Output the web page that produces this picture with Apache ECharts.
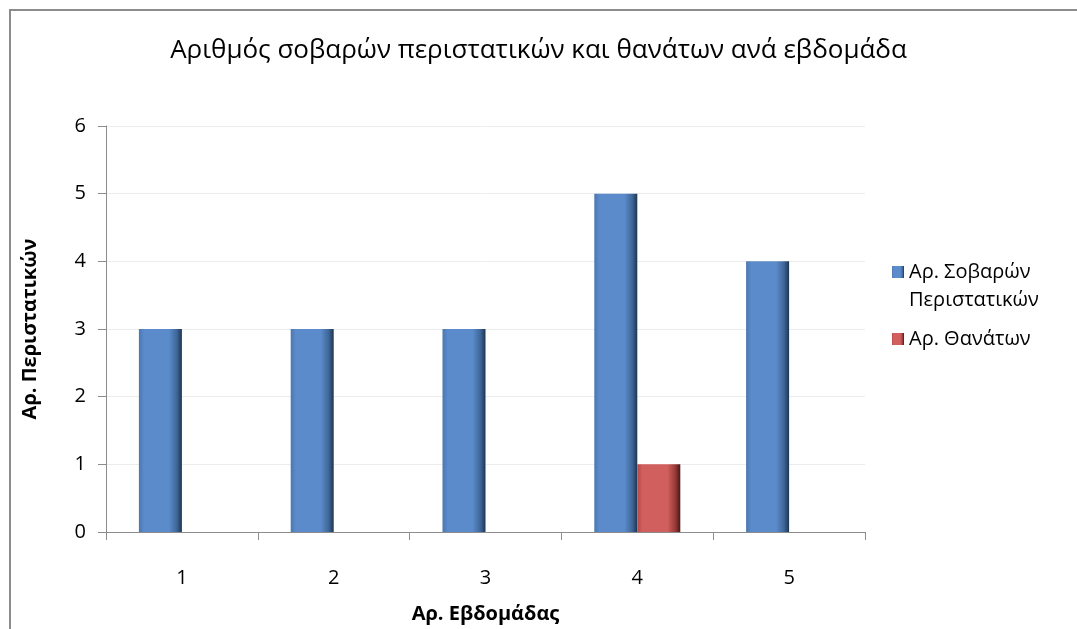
<!DOCTYPE html>
<html><head><meta charset="utf-8">
<script src="https://cdn.jsdelivr.net/npm/echarts@6/dist/echarts.min.js"></script>
<style>html,body{margin:0;padding:0;background:#fff}#c{width:1077px;height:629px}</style>
</head><body><div id="c"></div>
<script>
const categories = ['1','2','3','4','5'];
const seriousCases = [3,3,3,5,4];
const deaths = [0,0,0,1,0];
const seriesNames = ['Αρ. Σοβαρών Περιστατικών','Αρ. Θανάτων'];
const titleText = 'Αριθμός σοβαρών περιστατικών και θανάτων ανά εβδομάδα';
const xName = 'Αρ. Εβδομάδας';
const yName = 'Αρ. Περιστατικών';

const FONT = 'Open Sans';
function grad(c0,c1,c2,c3){
  return new echarts.graphic.LinearGradient(0,0,1,0,[
    {offset:0,color:c0},{offset:0.12,color:c1},{offset:0.7,color:c1},{offset:0.88,color:c2},{offset:1,color:c3}]);
}
const chart = echarts.init(document.getElementById('c'));
chart.setOption({
  animation:false,
  textStyle:{fontFamily:FONT},
  title:{text:titleText,left:'center',top:33,textStyle:{fontFamily:FONT,fontSize:26,fontWeight:'normal',color:'#000'}},
  graphic:[{type:'rect',shape:{x:10,y:10,width:1200,height:800},style:{fill:'none',stroke:'#8c8c8c',lineWidth:2}}],
  grid:{left:106,right:212,top:126,bottom:97,outerBoundsMode:'none',containLabel:false},
  legend:{orient:'vertical',left:887,top:225,itemWidth:12,itemHeight:12,itemGap:11,icon:'rect',
    textStyle:{fontFamily:FONT,fontSize:20,color:'#000',lineHeight:28},
    formatter:n=> n===seriesNames[0] ? '\nΑρ. Σοβαρών\nΠεριστατικών' : n,
    data:seriesNames},
  xAxis:{type:'category',data:categories,name:xName,nameLocation:'middle',nameGap:72,
    nameTextStyle:{fontFamily:FONT,fontSize:20,fontWeight:'bold',color:'#000'},
    axisLine:{lineStyle:{color:'#8c8c8c'}},axisTick:{show:true,length:8,lineStyle:{color:'#8c8c8c'}},
    axisLabel:{margin:36,fontSize:20,color:'#000',fontFamily:FONT}},
  yAxis:{type:'value',min:0,max:6,interval:1,name:yName,nameLocation:'middle',nameGap:66,
    nameTextStyle:{fontFamily:FONT,fontSize:20,fontWeight:'bold',color:'#000'},
    axisLine:{show:true,lineStyle:{color:'#8c8c8c'}},axisTick:{show:true,length:8,lineStyle:{color:'#8c8c8c'}},
    axisLabel:{margin:20,fontSize:20,color:'#000',fontFamily:FONT},
    splitLine:{lineStyle:{color:'#ececec'}}},
  series:[
    {name:seriesNames[0],type:'bar',data:seriousCases,barWidth:43,barGap:'0%',
      itemStyle:{color:grad('#4a77b0','#5b8bcb','#3f6798','#1e3552')}},
    {name:seriesNames[1],type:'bar',data:deaths,barWidth:43,
      itemStyle:{color:grad('#b34a48','#d05f5d','#9a3b39','#4a1716')}}
  ]
});
</script></body></html>
